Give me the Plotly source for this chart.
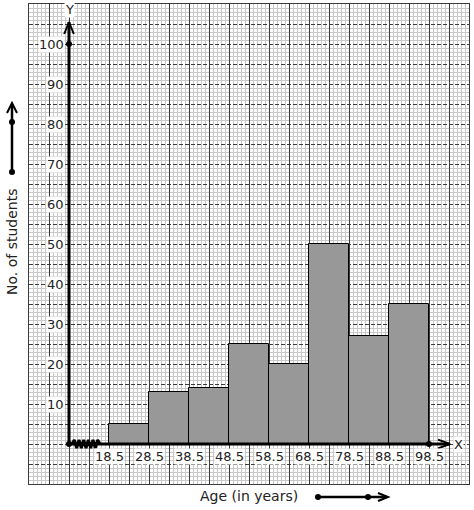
import plotly.graph_objects as go

# ---- data ----
bin_edges = [18.5, 28.5, 38.5, 48.5, 58.5, 68.5, 78.5, 88.5, 98.5]
students = [5, 13, 14, 25, 20, 50, 27, 35]
x_tick_labels = ["18.5", "28.5", "38.5", "48.5", "58.5", "68.5", "78.5", "88.5", "98.5"]
y_tick_values = [10, 20, 30, 40, 50, 60, 70, 80, 90, 100]
x_origin = 8.5          # where the (broken) axis meets the y axis
x_title = "Age (in years)"
y_title = "No. of students"

W, H = 474, 510
ML, MR, MT, MB = 29, 5, 4, 26
PW, PH = W - ML - MR, H - MT - MB
X_RANGE = [-1.5, 108.5]
Y_RANGE = [-10, 110]

FONT = "DejaVu Sans"
TXT = "#222222"
MAJOR = "#3a3a3a"
MINOR = "#c8c8c8"

def px2paper_x(px):
    return (px - ML) / PW

def px2paper_y(py):
    return (H - MB - py) / PH

centers = [(a + b) / 2 for a, b in zip(bin_edges[:-1], bin_edges[1:])]
widths = [b - a for a, b in zip(bin_edges[:-1], bin_edges[1:])]

fig = go.Figure()

fig.add_trace(go.Bar(
    x=centers, y=students, width=widths,
    marker=dict(color="#989898", line=dict(color="black", width=1)),
    hoverinfo="skip", showlegend=False,
))

# y axis line and arrow
y_top = 105.5
fig.add_trace(go.Scatter(x=[x_origin, x_origin], y=[0, y_top], mode="lines",
                         line=dict(color="black", width=3), showlegend=False, hoverinfo="skip"))
fig.add_trace(go.Scatter(x=[x_origin - 1.2, x_origin, x_origin + 1.2], y=[y_top - 3, y_top, y_top - 3],
                         mode="lines", line=dict(color="black", width=2), showlegend=False, hoverinfo="skip"))
# x axis line and arrow
x_end = 103.75
fig.add_trace(go.Scatter(x=[x_origin, x_end], y=[0, 0], mode="lines",
                         line=dict(color="black", width=3), showlegend=False, hoverinfo="skip"))
fig.add_trace(go.Scatter(x=[x_end - 3, x_end, x_end - 3], y=[1.1, 0, -1.1],
                         mode="lines", line=dict(color="black", width=2), showlegend=False, hoverinfo="skip"))
# axis break zigzag
zz_n = 12
zz_x = [9.25 + i * (16.25 - 9.25) / zz_n for i in range(zz_n + 1)]
zz_y = [0 if i in (0, zz_n) else (1 if i % 2 else -1) for i in range(zz_n + 1)]
fig.add_trace(go.Scatter(x=zz_x, y=zz_y, mode="lines", line=dict(color="black", width=3),
                         showlegend=False, hoverinfo="skip"))
# dots
fig.add_trace(go.Scatter(x=[x_origin, x_origin, bin_edges[-1]], y=[0, y_tick_values[-1], 0],
                         mode="markers", marker=dict(color="black", size=6),
                         showlegend=False, hoverinfo="skip"))

annotations = []
for v in y_tick_values:
    annotations.append(dict(x=x_origin - 0.9, y=v, xref="x", yref="y", text=str(v),
                            showarrow=False, xanchor="right", yanchor="middle",
                            bgcolor="white", borderpad=0,
                            font=dict(family=FONT, size=13, color=TXT)))
for e, lab in zip(bin_edges, x_tick_labels):
    annotations.append(dict(x=e, y=-3, xref="x", yref="y", text=lab,
                            showarrow=False, xanchor="center", yanchor="middle",
                            bgcolor="white", borderpad=0,
                            font=dict(family=FONT, size=13, color=TXT)))
annotations.append(dict(x=105.9, y=0, xref="x", yref="y", text="X", showarrow=False,
                        xanchor="center", yanchor="middle", bgcolor="white", borderpad=0,
                        font=dict(family=FONT, size=13, color=TXT)))
annotations.append(dict(x=x_origin + 0.2, y=108.6, xref="x", yref="y", text="Y", showarrow=False,
                        xanchor="center", yanchor="middle", bgcolor="white", borderpad=0,
                        font=dict(family=FONT, size=13, color=TXT)))
annotations.append(dict(x=px2paper_x(249), y=px2paper_y(496), xref="paper", yref="paper",
                        text=x_title, showarrow=False, xanchor="center", yanchor="middle",
                        font=dict(family=FONT, size=14, color=TXT)))
annotations.append(dict(x=px2paper_x(12), y=px2paper_y(242), xref="paper", yref="paper",
                        text=y_title, showarrow=False, textangle=-90, xanchor="center", yanchor="middle",
                        font=dict(family=FONT, size=14, color=TXT)))

shapes = []
def pline(pts, w=2.5):
    path = "M " + " L ".join(f"{px2paper_x(a)},{px2paper_y(b)}" for a, b in pts)
    shapes.append(dict(type="path", path=path, xref="paper", yref="paper",
                       line=dict(color="black", width=w)))
def pdot(cx, cy, r=3):
    shapes.append(dict(type="circle", xref="paper", yref="paper",
                       x0=px2paper_x(cx - r), x1=px2paper_x(cx + r),
                       y0=px2paper_y(cy + r), y1=px2paper_y(cy - r),
                       fillcolor="black", line=dict(color="black", width=0)))
# left decorative arrow
pline([(12, 172), (12, 104)])
pline([(7, 113), (12, 103), (17, 113)], w=2)
pdot(12, 172); pdot(12, 122)
# bottom decorative arrow
pline([(318, 497), (387, 497)])
pline([(378, 493), (388, 497), (378, 501)], w=2)
pdot(318, 497); pdot(368, 497)

fig.update_layout(
    width=W, height=H,
    margin=dict(l=ML, r=MR, t=MT, b=MB),
    paper_bgcolor="white", plot_bgcolor="white",
    bargap=0, showlegend=False,
    annotations=annotations, shapes=shapes,
    xaxis=dict(range=X_RANGE, tick0=-1.5, dtick=5, showgrid=True, gridcolor=MAJOR, gridwidth=1,
               showticklabels=False, ticks="", zeroline=False,
               showline=True, mirror=True, linecolor=MAJOR, linewidth=1,
               minor=dict(tick0=-1.5, dtick=1, showgrid=True, gridcolor=MINOR, gridwidth=1,
                          griddash="solid", ticks="")),
    yaxis=dict(range=Y_RANGE, tick0=0, dtick=5, showgrid=True, gridcolor=MAJOR, gridwidth=1,
               griddash="4px,2px",
               showticklabels=False, ticks="", zeroline=False,
               showline=True, mirror=True, linecolor=MAJOR, linewidth=1,
               minor=dict(tick0=0, dtick=1, showgrid=True, gridcolor=MINOR, gridwidth=1,
                          griddash="solid", ticks="")),
)

fig.write_html("out.html", config={"displayModeBar": False},
               post_script="document.body.style.margin='0';document.body.style.overflow='hidden';")
